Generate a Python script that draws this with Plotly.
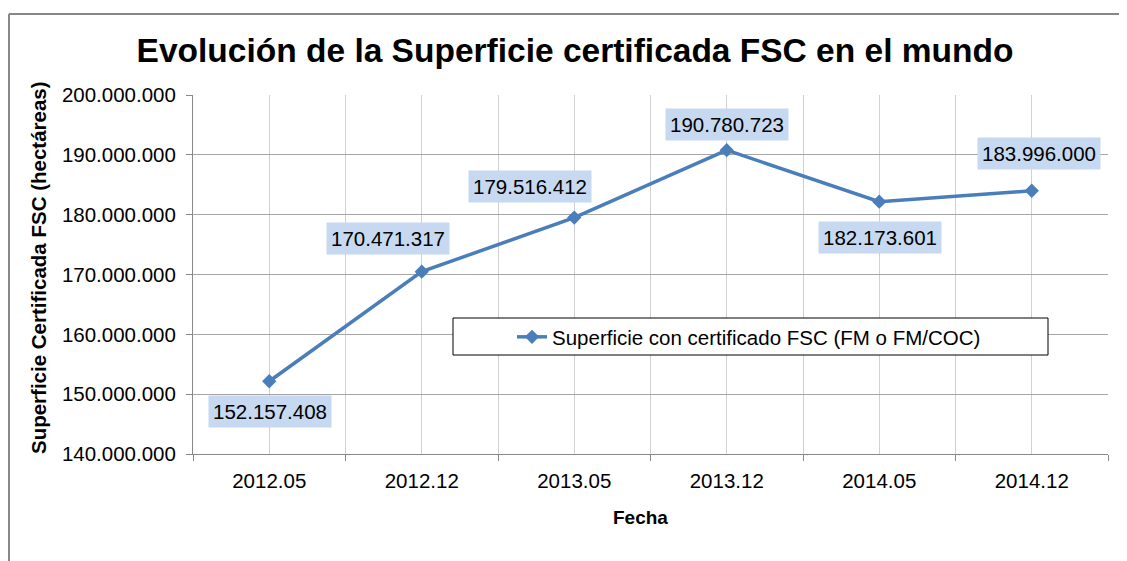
import plotly.graph_objects as go

# ---- data ----
fechas = ["2012.05", "2012.12", "2013.05", "2013.12", "2014.05", "2014.12"]
superficie = [152157408, 170471317, 179516412, 190780723, 182173601, 183996000]
serie_nombre = "Superficie con certificado FSC (FM o FM/COC)"
titulo = "Evolución de la Superficie certificada FSC en el mundo"
titulo_y = "Superficie Certificada FSC (hectáreas)"
titulo_x = "Fecha"
y_ticks = [140000000, 150000000, 160000000, 170000000, 180000000, 190000000, 200000000]

# label offsets (pixels) for data labels
label_shift = [(1, -30), (-34, 33), (-44, 31), (0, 26), (1, -36), (7, 37)]

W, H = 1127, 561
O = 8  # page body margin
L, R, T, B = 193, 1108, 95, 454
FONT = "Liberation Sans, Arial, sans-serif"
BLUE = "#4A7EBB"
FS = 20.5


def px(x):
    return (x - L) / (R - L)


def py(y):
    return (B - y) / (B - T)


xi = list(range(len(fechas)))

fig = go.Figure()
fig.add_trace(go.Scatter(
    x=xi, y=superficie, mode="lines+markers", name=serie_nombre,
    line=dict(color=BLUE, width=3.5),
    marker=dict(symbol="diamond", size=11, color=BLUE),
))

annotations = []
for i, (v, (dx, dy)) in enumerate(zip(superficie, label_shift)):
    annotations.append(dict(
        x=xi[i], y=v, xref="x", yref="y", text=f"{v:,}".replace(",", "."),
        showarrow=False, xshift=dx, yshift=dy, bgcolor="#C6D9F1",
        borderpad=4, font=dict(family=FONT, size=FS, color="#000000"),
    ))

annotations.append(dict(
    x=px(38), y=py(268), xref="paper", yref="paper", text=titulo_y,
    textangle=-90, showarrow=False, xanchor="center", yanchor="middle",
    font=dict(family=FONT, size=20.5, color="#000000", weight="bold"),
))
annotations.append(dict(
    x=px(640), y=py(517), xref="paper", yref="paper", text=titulo_x,
    showarrow=False, xanchor="center", yanchor="middle",
    font=dict(family=FONT, size=19, color="#000000", weight="bold"),
))

shapes = [
    # outer chart border (top and left)
    dict(type="line", xref="paper", yref="paper", x0=px(9), x1=px(1127), y0=py(14), y1=py(14),
         line=dict(color="#888888", width=2)),
    dict(type="line", xref="paper", yref="paper", x0=px(9), x1=px(9), y0=py(14), y1=py(561),
         line=dict(color="#888888", width=2)),
    # legend box
    dict(type="rect", xref="paper", yref="paper", x0=px(453), x1=px(1048), y0=py(318), y1=py(355),
         line=dict(color="#000000", width=1), fillcolor="#FFFFFF", layer="above"),
]

fig.update_layout(
    width=W - O, height=H - O,
    margin=dict(l=L - O, r=W - R, t=T - O, b=H - B, pad=0),
    paper_bgcolor="#FFFFFF", plot_bgcolor="#FFFFFF",
    separators=",.",
    title=dict(text=titulo, x=(575 - O) / (W - O), y=1 - (50 - O) / (H - O),
               xanchor="center", yanchor="middle",
               font=dict(family=FONT, size=33.5, color="#000000", weight="bold")),
    font=dict(family=FONT, size=FS, color="#000000"),
    showlegend=True,
    legend=dict(x=px(512), y=py(337), xanchor="left", yanchor="middle",
                bgcolor="rgba(0,0,0,0)", borderwidth=0,
                font=dict(family=FONT, size=FS, color="#000000")),
    xaxis=dict(
        range=[-0.5, len(fechas) - 0.5], tickmode="array", tickvals=xi, ticktext=fechas,
        showgrid=True, gridcolor="#D0D0D0", gridwidth=1, ticks="",
        showline=True, linecolor="#888888", linewidth=1, zeroline=False,
        ticklabelstandoff=8,
        minor=dict(tickvals=[i - 0.5 for i in range(len(fechas) + 1)], showgrid=True,
                   gridcolor="#D0D0D0", gridwidth=1, ticks="outside", ticklen=6,
                   tickcolor="#888888"),
        tickfont=dict(family=FONT, size=FS, color="#000000"),
    ),
    yaxis=dict(
        range=[140000000, 200000000], tickmode="array", tickvals=y_ticks, tickformat=",d",
        showgrid=True, gridcolor="#A6A6A6", gridwidth=1, ticks="outside", ticklen=6,
        tickcolor="#888888", showline=True, linecolor="#888888", linewidth=1, zeroline=False,
        ticklabelstandoff=6,
        tickfont=dict(family=FONT, size=FS, color="#000000"),
    ),
    annotations=annotations,
    shapes=shapes,
)

fig.write_html("out.html")
